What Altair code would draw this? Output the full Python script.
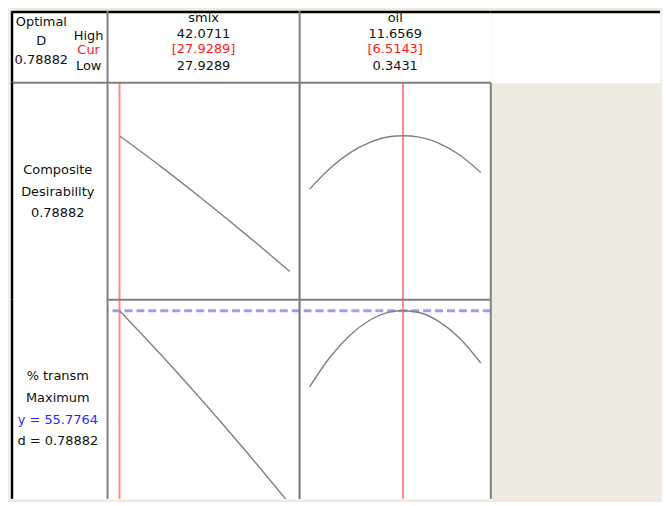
import altair as alt
import pandas as pd

# ---------------- data ----------------
factor_names = ["smix", "oil"]
high_labels = ["42.0711", "11.6569"]
cur_labels = ["[27.9289]", "[6.5143]"]
low_labels = ["27.9289", "0.3431"]
cur_values = [27.9289, 6.5143]
x_domains = [[26.936, 42.90], [-0.315, 12.315]]

optimal_lines = ["Optimal", "D", "0.78882"]
hcl_labels = ["High", "Cur", "Low"]
desir_lines = ["Composite", "Desirability", "0.78882"]
resp_lines = ["% transm", "Maximum", "y = 55.7764", "d = 0.78882"]
y_optimum = 55.7764

smix_x = [27.93, 31.32, 34.63, 38.35, 42.07]
smix_d = [0.7888, 0.6335, 0.4746, 0.2886, 0.0952]
smix_y = [55.78, 46.76, 37.54, 26.75, 15.52]

oil_x = [0.343, 1.659, 2.975, 4.290, 5.606, 6.514, 7.579, 8.895, 10.211, 11.657]
oil_d = [0.516, 0.620, 0.700, 0.754, 0.784, 0.7888, 0.782, 0.750, 0.693, 0.601]
oil_y = [39.93, 45.98, 50.59, 53.75, 55.50, 55.78, 55.41, 53.52, 50.22, 44.88]

d_domain = [-0.05, 1.06]
y_domain = [16.58, 58.06]

# ---------------- layout / style ----------------
FONT = "DejaVu Sans"
FS = 13
TXT = "#111111"
RED = "#ff1a1a"
BLUE = "#2a2aff"
GRID = "#7f7f7f"
BEIGE = "#eeeae0"

W_LAB = 99
W_P = [193, 192]
W_R = 170
H_HEAD = 72
H_ROW = 218
H_ROW2 = 200


def one():
    return pd.DataFrame({"a": [0]})


def text_layer(s, x, y, color=TXT, align="center"):
    return alt.Chart(pd.DataFrame({"t": [s]})).mark_text(
        font=FONT, fontSize=FS, color=color, align=align, baseline="alphabetic"
    ).encode(text="t:N", x=alt.value(x), y=alt.value(y))


def hrule(y, x1, x2, color, sw):
    return alt.Chart(one()).mark_rule(color=color, strokeWidth=sw).encode(
        x=alt.value(x1), x2=alt.value(x2), y=alt.value(y))


def vrule(x, y1, y2, color, sw):
    return alt.Chart(one()).mark_rule(color=color, strokeWidth=sw).encode(
        x=alt.value(x), y=alt.value(y1), y2=alt.value(y2))


def cell(layers, w, h, fill="white"):
    return alt.layer(*layers).properties(
        width=w, height=h, view=alt.ViewBackground(fill=fill, stroke="transparent"))


# ---------- header row ----------
cells = []
cells.append(cell([
    hrule(1, 3, W_LAB, "black", 2.5),
    vrule(3, 0, H_HEAD, "black", 2.5),
    text_layer(optimal_lines[0], 32.5, 14.5),
    text_layer(optimal_lines[1], 32.5, 34.2),
    text_layer(optimal_lines[2], 32.5, 53.5),
    text_layer(hcl_labels[0], 80, 29.2),
    text_layer(hcl_labels[1], 80, 43.5, RED),
    text_layer(hcl_labels[2], 80, 59.3),
], W_LAB, H_HEAD))
for i in range(2):
    w = W_P[i]
    c = w / 2
    cells.append(cell([
        hrule(1, 0, w, "black", 2.5),
        vrule(0, 0, H_HEAD, GRID, 2),
        text_layer(factor_names[i], c, 10.5),
        text_layer(high_labels[i], c, 26.8),
        text_layer(cur_labels[i], c, 41.8, RED),
        text_layer(low_labels[i], c, 59.0),
    ], w, H_HEAD))
cells.append(cell([hrule(1, 0, W_R, "black", 2.5)], W_R, H_HEAD))


# ---------- plot panels ----------
def panel(i, xs, vs, ydom, h, ref=None):
    xsc = alt.Scale(domain=x_domains[i], nice=False, zero=False)
    ysc = alt.Scale(domain=ydom, nice=False, zero=False)
    w = W_P[i]
    layers = []
    if ref is not None:
        layers.append(
            alt.Chart(pd.DataFrame({"v": [ref]})).mark_rule(
                color="#9c9cff", strokeWidth=3, strokeDash=[8, 4]
            ).encode(y=alt.Y("v:Q", scale=ysc, axis=None))
        )
    layers.append(
        alt.Chart(pd.DataFrame({"c": [cur_values[i]]})).mark_rule(
            color="#ff8c8c", strokeWidth=2
        ).encode(x=alt.X("c:Q", scale=xsc, axis=None))
    )
    layers.append(
        alt.Chart(pd.DataFrame({"x": xs, "v": vs})).mark_line(
            color="#808080", strokeWidth=1.4, interpolate="monotone", clip=True
        ).encode(
            x=alt.X("x:Q", scale=xsc, axis=None),
            y=alt.Y("v:Q", scale=ysc, axis=None),
        )
    )
    # panel frame: top, left, right (bottom is off the picture)
    layers += [
        hrule(0, 0, w, GRID, 2),
        vrule(0, 0, h, GRID, 2),
        vrule(w, 0, h, GRID, 2),
    ]
    return alt.layer(*layers).properties(
        width=w, height=h,
        view=alt.ViewBackground(fill="white", stroke="transparent"),
    )


def spacer(w, h):
    return cell([text_layer("", 0, 0)], w, h, fill="transparent")


# ---------- row 1: composite desirability ----------
cells.append(cell([
    hrule(0, 3, W_LAB, GRID, 2),
    vrule(3, 0, H_ROW, "black", 2.5),
    text_layer(desir_lines[0], 49, 91.7),
    text_layer(desir_lines[1], 49, 113.4),
    text_layer(desir_lines[2], 49, 135.2),
], W_LAB, H_ROW))
cells.append(panel(0, smix_x, smix_d, d_domain, H_ROW))
cells.append(panel(1, oil_x, oil_d, d_domain, H_ROW))
cells.append(spacer(W_R, H_ROW))

# ---------- row 2: % transm ----------
cells.append(cell([
    vrule(3, 0, H_ROW2, "black", 2.5),
    text_layer(resp_lines[0], 49, 81.0),
    text_layer(resp_lines[1], 49, 102.7),
    text_layer(resp_lines[2], 49, 124.4, BLUE),
    text_layer(resp_lines[3], 49, 146.2),
], W_LAB, H_ROW2))
cells.append(panel(0, smix_x, smix_y, y_domain, H_ROW2, ref=y_optimum))
cells.append(panel(1, oil_x, oil_y, y_domain, H_ROW2, ref=y_optimum))
cells.append(spacer(W_R, H_ROW2))

chart = alt.concat(*cells, columns=4, spacing=0, bounds="flush").properties(
    background=BEIGE, padding=0
)

chart.save("out.html", embed_options={"renderer": "svg", "actions": False})
